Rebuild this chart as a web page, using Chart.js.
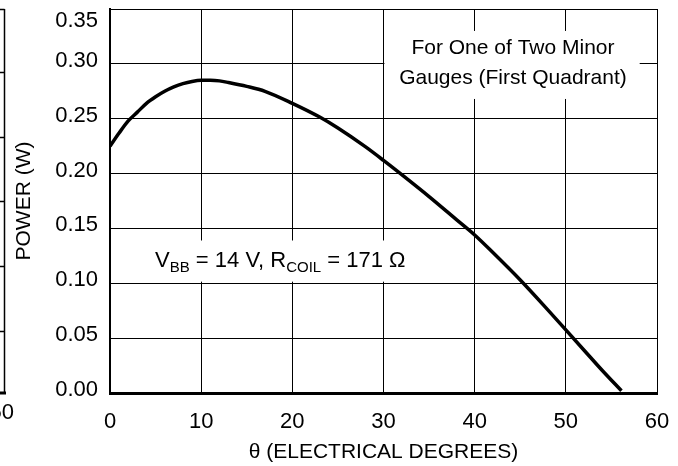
<!DOCTYPE html>
<html>
<head>
<meta charset="utf-8">
<script src="https://cdn.jsdelivr.net/npm/chart.js@4.4.1/dist/chart.umd.min.js"></script>
<style>
    body { margin: 0; background: #fff; }
    #wrap { width: 678px; height: 466px; }
</style>
</head>
<body>
<div id="wrap"><canvas id="chart-power" width="678" height="466"></canvas></div>
<script>
// Power vs electrical angle, one minor gauge
var thetaDeg = [0, 1, 2, 3, 4, 5, 6, 7, 8, 9, 10, 11, 12, 13, 15, 17, 20, 23, 25, 28, 30, 32, 35, 38, 40, 42, 45, 48, 50, 52, 54, 56.1];
var powerW = [0.225, 0.237, 0.248, 0.256, 0.264, 0.270, 0.275, 0.279, 0.282, 0.284, 0.285, 0.285, 0.2845, 0.283, 0.2795, 0.275, 0.264, 0.2515, 0.2415, 0.2245, 0.212, 0.199, 0.179, 0.158, 0.144, 0.128, 0.103, 0.076, 0.0575, 0.039, 0.0205, 0.002];
var xTicks = [0, 10, 20, 30, 40, 50, 60];
var yTicks = ['0.00', '0.05', '0.10', '0.15', '0.20', '0.25', '0.30', '0.35'];

var FONT = '"Liberation Sans", Arial, Helvetica, sans-serif';

function box(ctx, x, y, x0, x1, y0, y1) {
    var l = x.getPixelForValue(x0), r = x.getPixelForValue(x1);
    var t = y.getPixelForValue(y0), b = y.getPixelForValue(y1);
    ctx.fillRect(l, t, r - l, b - t);
}

// text pieces: [text, isSub]
function richText(ctx, parts, px, py) {
    parts.forEach(function (p) {
        ctx.font = (p[1] ? '15px ' : '22px ') + FONT;
        ctx.fillText(p[0], px, py + (p[1] ? 5 : 0));
        px += ctx.measureText(p[0]).width;
    });
}

var notes = {
    id: 'notes',
    beforeDatasetsDraw: function (chart) {
        var ctx = chart.ctx, x = chart.scales.x, y = chart.scales.y;
        ctx.save();
        ctx.fillStyle = '#fff';
        box(ctx, x, y, 30.1, 58.1, 0.330, 0.268);
        box(ctx, x, y, 3.8, 34, 0.139, 0.1015);
        ctx.restore();
    },
    afterDraw: function (chart) {
        var ctx = chart.ctx, x = chart.scales.x, y = chart.scales.y;
        ctx.save();
        ctx.fillStyle = '#000';

        ctx.font = '21px ' + FONT;
        ctx.textAlign = 'center';
        ctx.textBaseline = 'middle';
        ctx.fillText('For One of Two Minor', x.getPixelForValue(44.2), y.getPixelForValue(0.3145));
        ctx.fillText('Gauges (First Quadrant)', x.getPixelForValue(44.2), y.getPixelForValue(0.2873));

        ctx.textAlign = 'left';
        ctx.textBaseline = 'alphabetic';
        richText(ctx, [['V', 0], ['BB', 1], [' = 14 V, R', 0], ['COIL', 1], [' = 171 \u03A9', 0]],
            x.getPixelForValue(4.94), y.getPixelForValue(0.1145));

        // top tick label sits below the frame line
        ctx.font = '22px ' + FONT;
        ctx.textAlign = 'right';
        ctx.textBaseline = 'middle';
        ctx.fillText(yTicks[7], x.left - 12, y.getPixelForValue(0.35) + 12);

        // edge of the neighbouring chart
        ctx.strokeStyle = '#000';
        ctx.lineWidth = 1.5;
        ctx.beginPath();
        ctx.moveTo(4.5, y.top);
        ctx.lineTo(4.5, y.bottom);
        [y.top, 72, 137, 201, 266, 331].forEach(function (py) {
            ctx.moveTo(0, py + 0.5);
            ctx.lineTo(4.5, py + 0.5);
        });
        ctx.stroke();
        ctx.lineWidth = 3;
        ctx.beginPath();
        ctx.moveTo(0, y.bottom);
        ctx.lineTo(6, y.bottom);
        ctx.stroke();
        ctx.textAlign = 'right';
        ctx.fillText('50', 14, 413);
        ctx.restore();
    }
};

new Chart(document.getElementById('chart-power').getContext('2d'), {
    type: 'line',
    data: {
        datasets: [{
            data: thetaDeg.map(function (t, i) { return {x: t, y: powerW[i]}; }),
            borderColor: '#000',
            borderWidth: 3.5,
            pointRadius: 0,
            fill: false,
            cubicInterpolationMode: 'monotone'
        }]
    },
    options: {
        responsive: false,
        animation: false,
        layout: {padding: {top: 9, right: 21, left: 0, bottom: 0}},
        plugins: {legend: {display: false}, tooltip: {enabled: false}},
        scales: {
            x: {
                type: 'linear',
                min: 0,
                max: 60,
                afterFit: function (s) { s.height = 73; s.paddingLeft = 0; s.paddingRight = 0; },
                afterBuildTicks: function (s) { s.ticks = xTicks.map(function (v) { return {value: v}; }); },
                ticks: {color: '#000', font: {family: FONT, size: 22}, padding: 16, maxRotation: 0},
                grid: {color: '#000', lineWidth: 1, drawTicks: false},
                border: {color: '#000', width: 3},
                title: {display: true, text: '\u03B8 (ELECTRICAL DEGREES)', color: '#000',
                    font: {family: FONT, size: 21}, padding: {top: 0, bottom: 1}}
            },
            y: {
                min: 0,
                max: 0.35,
                afterFit: function (s) { s.width = 110; s.paddingTop = 0; s.paddingBottom = 0; },
                afterBuildTicks: function (s) { s.ticks = yTicks.map(function (v) { return {value: parseFloat(v)}; }); },
                ticks: {
                    color: '#000', font: {family: FONT, size: 22}, padding: 12, labelOffset: -3,
                    callback: function (v, i) { return i === yTicks.length - 1 ? '' : yTicks[i]; }
                },
                grid: {color: '#000', lineWidth: 1, drawTicks: false},
                border: {color: '#000', width: 2},
                title: {display: true, text: 'POWER (W)', color: '#000',
                    font: {family: FONT, size: 21}, padding: {top: 12, bottom: 0}}
            }
        }
    },
    plugins: [notes]
});
</script>
</body>
</html>
